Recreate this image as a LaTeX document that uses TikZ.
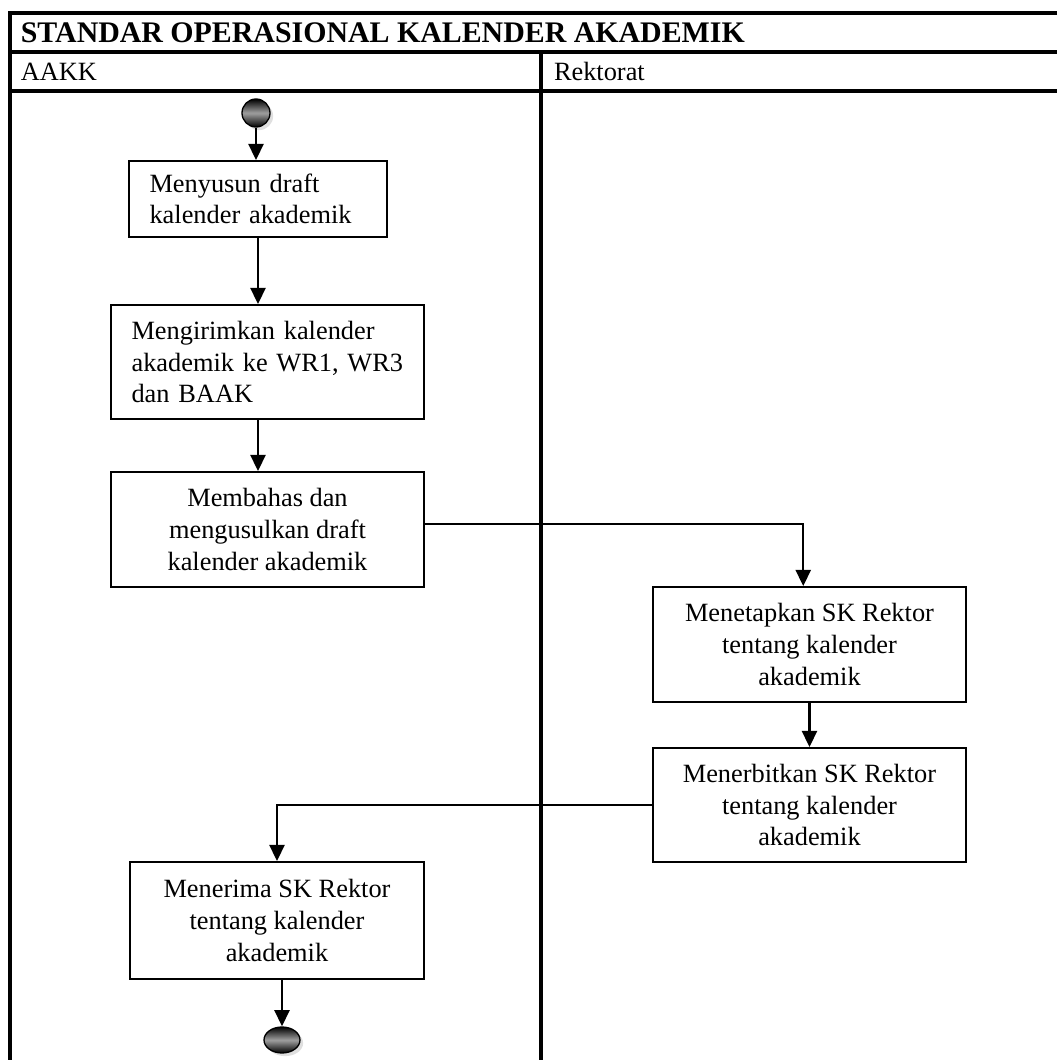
\documentclass[tikz,border=0pt]{standalone}
\usepackage{fontspec}
\setmainfont{Liberation Serif}
\usetikzlibrary{arrows.meta, positioning, shapes.geometric, shadows}
\tikzset{
  every picture/.style={line width=0.8pt},
  box/.style={draw, align=center, inner sep=4pt, minimum width=5.008cm, minimum height=1.84cm, font=\fontsize{12pt}{14.4pt}\selectfont},
  leftbox/.style={box, align=left, inner xsep=0.33cm},
  arrow/.style={-{Triangle[length=0.26cm, width=0.24cm]}, line width=1.1pt},
  grid/.style={line width=1.4pt},
  title/.style={font=\fontsize{13.6pt}{16pt}\selectfont\bfseries, anchor=west, inner sep=0pt},
  lane/.style={font=\fontsize{12pt}{14.4pt}\selectfont, anchor=west, inner sep=0pt},
  terminal/.style={ellipse, draw, line width=0.6pt, inner sep=0pt, top color=black, bottom color=black, middle color=gray!75, drop shadow={shadow xshift=0.05cm, shadow yshift=-0.05cm, fill=gray!50}},
}

\begin{document}
\begin{tikzpicture}
  \useasboundingbox (0,0) rectangle (16.912,16.96);
  % table frame
  \draw[grid] (16.912,16.752) -- (0.16,16.752) -- (0.16,0);
  \draw[grid] (0.16,16.128) -- (16.912,16.128);
  \draw[grid] (0.16,15.504) -- (16.912,15.504);
  \draw[grid] (8.656,16.128) -- (8.656,0);
  % headings
  \node[title] (head) at (0.32,16.44) {STANDAR OPERASIONAL KALENDER AKADEMIK};
  \node[lane] (aakk) at (0.32,15.816) {AAKK};
  \node[lane] (rektorat) at (8.85,15.816) {Rektorat};
  % AAKK
  \node[terminal, minimum width=0.448cm, minimum height=0.448cm] (start) at (4.096,15.152) {};
  \node[leftbox, text width=3.47cm, minimum width=4.128cm, minimum height=1.216cm] (draft) at (4.128,13.776) {Menyusun draft\\kalender akademik};
  \node[leftbox, text width=4.35cm, minimum height=1.824cm] (kirim) at (4.28,11.168) {Mengirimkan kalender\\akademik ke WR1, WR3\\dan BAAK};
  \node[box] (bahas) at (4.28,8.488) {Membahas dan\\mengusulkan draft\\kalender akademik};
  % Rektorat
  \node[box] (tetap) at (12.952,6.648) {Menetapkan SK Rektor\\tentang kalender\\akademik};
  \node[box, minimum height=1.824cm] (terbit) at (12.952,4.08) {Menerbitkan SK Rektor\\tentang kalender\\akademik};
  % back to AAKK
  \node[box, minimum width=4.704cm, minimum height=1.872cm] (terima) at (4.432,2.232) {Menerima SK Rektor\\tentang kalender\\akademik};
  \node[terminal, minimum width=0.576cm, minimum height=0.416cm] (finish) at (4.512,0.32) {};
  % flow
  \draw[arrow] (start) -- (start |- draft.north);
  \draw[arrow] (draft) -- (draft |- kirim.north);
  \draw[arrow] (kirim.south -| draft) -- (bahas.north -| draft);
  \draw[arrow] ([yshift=0.09cm]bahas.east) -| ([xshift=-0.1cm]tetap.north);
  \draw[arrow] (tetap) -- (terbit);
  \draw[arrow] (terbit) -| (terima);
  \draw[arrow] (terima.south -| finish) -- (finish);
\end{tikzpicture}
\end{document}
